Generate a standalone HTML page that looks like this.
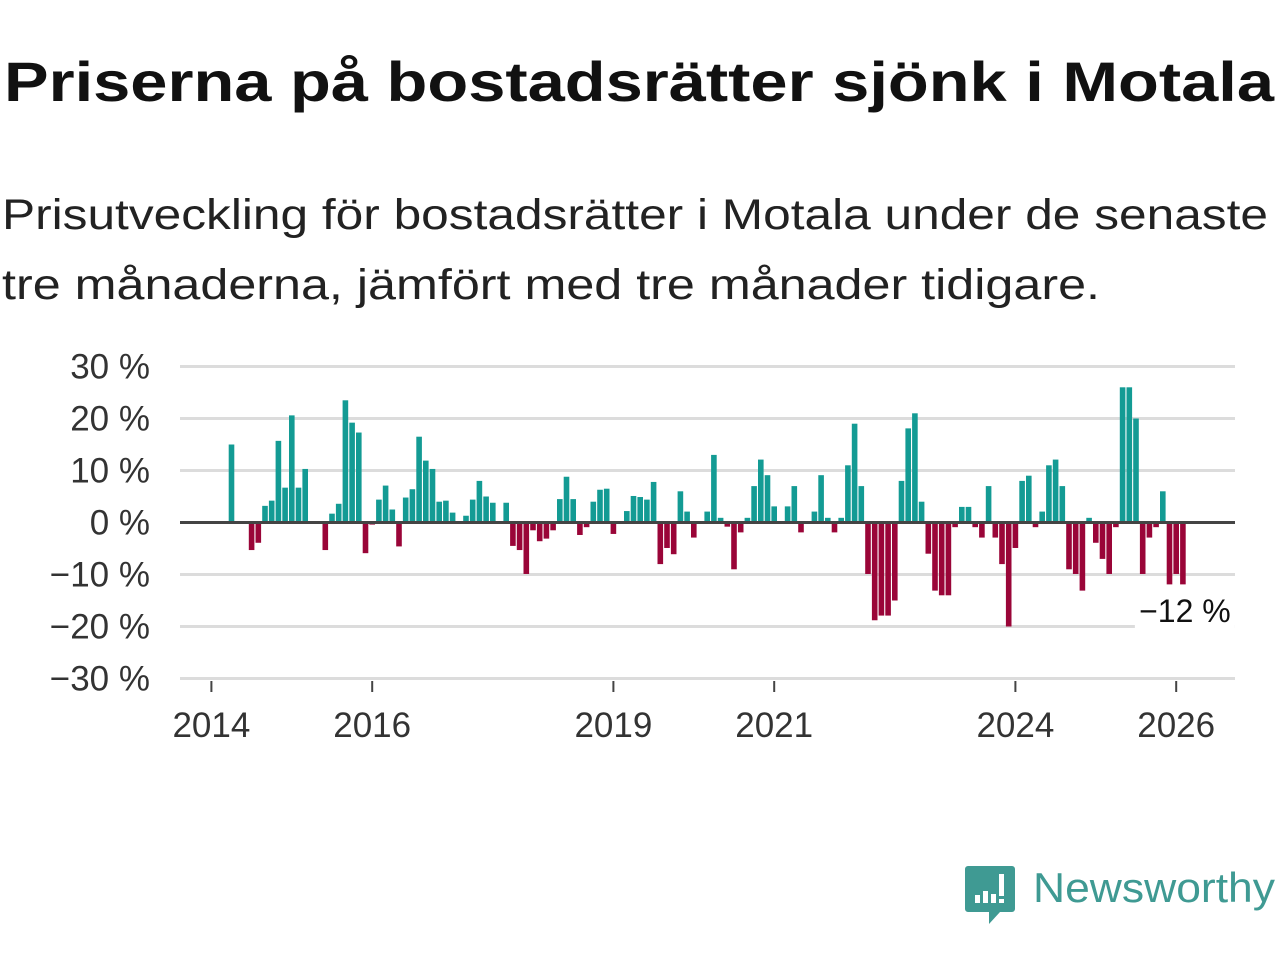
<!DOCTYPE html>
<html><head><meta charset="utf-8">
<style>
body{margin:0;background:#fff;width:1280px;height:960px;overflow:hidden;font-family:"Liberation Sans",sans-serif;}
</style></head>
<body>
<svg id="chart" width="1280" height="960" xmlns="http://www.w3.org/2000/svg">
<text x="4" y="101" font-size="56" font-weight="bold" fill="#111" textLength="1270" lengthAdjust="spacingAndGlyphs">Priserna på bostadsrätter sjönk i Motala</text>
<text x="2" y="229" font-size="43" fill="#222" textLength="1266" lengthAdjust="spacingAndGlyphs">Prisutveckling för bostadsrätter i Motala under de senaste</text>
<text x="2" y="299" font-size="43" fill="#222" textLength="1098" lengthAdjust="spacingAndGlyphs">tre månaderna, jämfört med tre månader tidigare.</text>
<g id="grid"></g><g id="bars"></g><g id="axes"></g>
<g>
<path d="M968 866 h44 a3 3 0 0 1 3 3 v40 a3 3 0 0 1 -3 3 h-12 l-11 12 v-12 h-21 a3 3 0 0 1 -3 -3 v-40 a3 3 0 0 1 3 -3z" fill="#3f9a93"/>
<rect x="975" y="895" width="5" height="8" fill="#fff"/><rect x="983" y="891" width="5" height="12" fill="#fff"/><rect x="991" y="894" width="5" height="9" fill="#fff"/><rect x="999" y="874" width="5" height="22" fill="#fff"/><rect x="999" y="899" width="5" height="4" fill="#fff"/>
<text x="1033" y="902" font-size="42" fill="#3f9a93" textLength="242" lengthAdjust="spacingAndGlyphs">Newsworthy</text>
</g>
</svg>
<script>
const startYear = 2014;
const values = [null,null,null,15,null,null,-5.3,-3.9,3.2,4.2,15.7,6.7,20.6,6.7,10.3,null,null,-5.3,1.7,3.6,23.5,19.2,17.3,-5.9,-0.4,4.4,7.1,2.5,-4.6,4.8,6.4,16.5,11.9,10.3,4.0,4.2,1.9,null,1.3,4.4,8.0,5.0,3.8,null,3.8,-4.5,-5.3,-9.9,-1.5,-3.6,-3.1,-1.5,4.5,8.8,4.5,-2.4,-0.9,4.0,6.3,6.5,-2.2,null,2.2,5.1,4.9,4.4,7.8,-8.0,-4.9,-6.1,6.0,2.1,-2.9,null,2.1,13.0,0.9,-0.8,-9.0,-1.9,0.9,7.0,12.1,9.1,3.1,null,3.1,7.0,-1.9,null,2.1,9.1,0.9,-1.9,0.9,11.0,19.0,7.0,-9.9,-18.8,-17.9,-17.9,-15.0,8.0,18.1,21.0,4.0,-6.0,-13.1,-14.0,-14.0,-0.9,3.0,3.0,-0.9,-2.9,7.0,-2.9,-8.0,-20.0,-4.9,8.0,9.0,-0.9,2.1,11.0,12.1,7.0,-9.0,-9.9,-13.1,0.9,-3.9,-7.0,-9.9,-0.9,26,26,20,-9.9,-2.9,-0.9,6.0,-11.9,-9.9,-11.9];
const yTicks = [30,20,10,0,-10,-20,-30];
const yTickLabels = ["30 %","20 %","10 %","0 %","−10 %","−20 %","−30 %"];
const xTickYears = [2014,2016,2019,2021,2024,2026];
const lastLabel = "−12 %";

const NS="http://www.w3.org/2000/svg";
const x = i => 211.4 + 6.7*i;
const y = v => 522.5 - v*5.2;
function mk(tag, attrs, parent){const e=document.createElementNS(NS,tag);for(const k in attrs)e.setAttribute(k,attrs[k]);parent.appendChild(e);return e;}
const grid=document.getElementById('grid'), bars=document.getElementById('bars'), axes=document.getElementById('axes');
yTicks.forEach((t,k)=>{
  if(t!==0){const l=mk('line',{x1:180,x2:1235,y1:y(t),y2:y(t),stroke:'#dcdcdc','stroke-width':3},grid);
  
  }
  const tx=mk('text',{x:150,y:y(t)+12,'font-size':35,'text-anchor':'end',fill:'#333'},axes);
  tx.textContent=yTickLabels[k];
  
  
});
values.forEach((v,i)=>{
  if(v===null)return;
  const r=mk('rect',{x:x(i)-2.8,width:5.6,y:Math.min(y(v),y(0)),height:Math.abs(y(v)-y(0)),fill:v>=0?'#139b94':'#9a0538'},bars);
  
  
});
const z=mk('line',{x1:180,x2:1235,y1:y(0),y2:y(0),stroke:'#444','stroke-width':3},axes);


xTickYears.forEach(yr=>{
  const i=(yr-startYear)*12;
  const tk=mk('line',{x1:x(i),x2:x(i),y1:681,y2:692,stroke:'#444','stroke-width':2},axes);
  
  
  const t=mk('text',{x:x(i),y:737,'font-size':35,'text-anchor':'middle',fill:'#333'},axes);
  t.textContent=yr;
  
  
});
const li=values.length-1;
const bg=mk('rect',{x:x(li)-48,y:595,width:100,height:34,fill:'#fff'},axes);


const lt=mk('text',{x:x(li)+2,y:622,'font-size':32,'text-anchor':'middle',fill:'#111'},axes);
lt.textContent=lastLabel;


</script>
</body></html>
